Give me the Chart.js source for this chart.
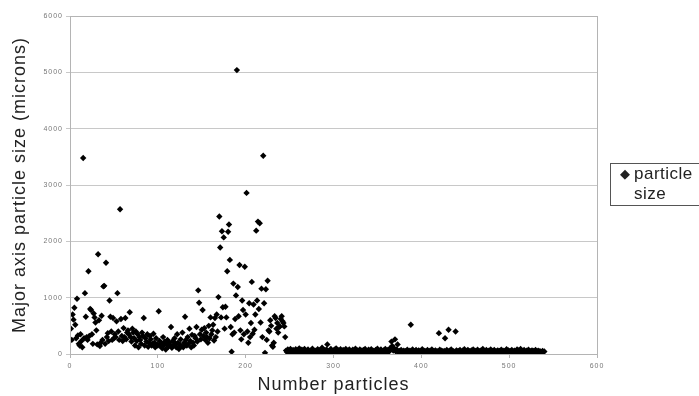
<!DOCTYPE html>
<html>
<head>
<meta charset="utf-8">
<script src="https://cdn.jsdelivr.net/npm/chart.js@4.4.1/dist/chart.umd.min.js"></script>
<style>
  html, body { margin: 0; padding: 0; background: #fff; }
  #chart { display: block; }
</style>
</head>
<body>
<canvas id="chart" width="699" height="396"></canvas>
<script>
// particle number = position in the list (1, 2, 3 ...)
var sizesPeak = [
  450, 250, 700, 610, 820, 520, 280, 980, 330, 180,
  150, 350, 230, 120, 3480, 280, 1080, 660, 300, 250,
  1470, 320, 800, 780, 350, 180, 720, 650, 560, 420,
  170, 1770, 600, 140, 200, 680, 250, 1200, 1210, 180,
  1620, 300, 370, 230, 950, 660, 400, 250, 640, 280,
  350, 300, 580, 1080, 400, 250, 2570, 620, 320, 230,
  460, 300, 640, 260, 380, 420, 350, 740, 300, 220,
  450, 380, 280, 150, 400, 230, 350, 120, 300, 250,
  180, 380, 320, 640, 150, 280, 220, 350, 130, 200,
  320, 260, 150, 180, 360, 200, 120, 280, 170, 150,
  760, 230, 140, 190, 100, 300, 160, 220, 80, 180,
  250, 130, 200, 160, 480, 110, 230, 150, 280, 190,
  120, 350, 200, 90, 160, 260, 140, 380, 120, 200,
  660, 250, 150, 300, 180, 450, 230, 120, 340, 200,
  150, 320, 280, 480, 220, 1130, 910, 350, 260, 430,
  780, 320, 460, 250, 380, 300, 200, 500, 280, 650,
  350, 420, 520, 240, 640, 300, 700, 400, 1010, 2440,
  1890, 650, 2180, 830, 2070, 450, 840, 650, 1470, 2170,
  2300, 1670, 480, 40, 350, 1250, 380, 620, 1040, 5040,
  1190, 670, 1580, 420, 260, 950, 780, 350, 1550, 700,
  2860, 400, 200, 900, 300, 550, 1280, 360, 880, 430,
  700, 2190, 950, 2350, 800, 2320, 560, 1160, 300, 3520,
  900, 20, 1150, 250, 1300, 420, 400, 600, 500, 150,
  130, 200, 670, 640, 450, 550, 380, 480, 490, 620,
  670, 580, 550, 490, 300
];
var sizesTail = [
  60, 35, 80, 20, 55, 90, 40, 15, 70, 45, 30, 85, 50, 25, 65, 100, 40, 20, 75, 55,
  30, 90, 45, 10, 60, 80, 35, 50, 20, 70, 95, 40, 25, 60, 45, 15, 85, 50, 30, 70,
  40, 110, 55, 20, 65, 35, 80, 170, 45, 25, 60, 90, 30, 50, 15, 75, 40, 100, 55, 20,
  65, 35, 85, 45, 10, 70, 50, 30, 90, 25, 60, 40, 80, 20, 55, 35, 75, 15, 50, 95,
  30, 65, 45, 20, 80, 40, 60, 10, 70, 35, 90, 50, 25, 55, 75, 15, 45, 85, 30, 60,
  40, 20, 70, 50, 95, 30, 55, 15, 80, 45, 25, 65, 35, 90, 50, 20, 70, 40, 60, 110,
  220, 140, 60, 100, 260, 45, 80, 170, 30, 55, 20, 70, 40, 15, 60, 35, 50, 25, 75, 45,
  20, 60, 520, 35, 80, 15, 50, 30, 70, 40, 10, 65, 25, 55, 45, 85, 20, 60, 35, 50,
  15, 70, 40, 25, 60, 45, 80, 20, 55, 30, 65, 10, 50, 35, 370, 75, 20, 60, 45, 25,
  55, 280, 40, 70, 15, 430, 60, 35, 80, 25, 50, 45, 20, 400, 65, 30, 55, 10, 70, 40,
  25, 60, 45, 85, 20, 55, 35, 70, 15, 50, 30, 65, 40, 80, 20, 60, 45, 25, 75, 35,
  50, 15, 65, 40, 90, 30, 55, 20, 70, 45, 25, 60, 35, 80, 10, 55, 40, 70, 25, 50,
  35, 65, 20, 55, 45, 75, 30, 60, 15, 50, 40, 85, 25, 65, 35, 55, 20, 70, 45, 30,
  60, 15, 50, 80, 35, 65, 25, 90, 40, 55, 20, 70, 45, 30, 60, 15, 75, 40, 50, 25,
  65, 35, 55, 20, 70, 45, 30, 60, 15, 50, 40, 25, 55, 35, 45
];
var xTicks = [0, 100, 200, 300, 400, 500, 600];
var yTicks = [0, 1000, 2000, 3000, 4000, 5000, 6000];
var seriesName = "particle size";

var points = sizesPeak.concat(sizesTail).map(function(v, i) {
  return { x: i + 1, y: v };
});

// the source text is set a little wide, so space the axis lettering out
var spacing = {
  id: "spacing",
  beforeDraw: function(chart) { chart.ctx.letterSpacing = "1px"; },
  beforeDatasetsDraw: function(chart) { chart.ctx.letterSpacing = "0px"; }
};

var frame = {
  id: "frame",
  afterDatasetsDraw: function(chart) {
    var a = chart.chartArea, c = chart.ctx;
    c.save();
    c.strokeStyle = "#b4b4b4";
    c.lineWidth = 1;
    c.strokeRect(a.left + 0.5, a.top + 0.5, a.right - a.left, a.bottom - a.top);
    c.restore();
  }
};

var legendBox = {
  id: "legendBox",
  afterDraw: function(chart) {
    var c = chart.ctx;
    c.save();
    c.strokeStyle = "#555";
    c.lineWidth = 1;
    c.strokeRect(610.5, 163.5, 100, 42);
    c.fillStyle = "#222";
    c.textBaseline = "alphabetic";
    c.font = '13px "DejaVu Sans", sans-serif';
    c.fillText("\u25C6", 620, 178);
    c.font = '17px "Liberation Sans", Arial, sans-serif';
    c.letterSpacing = "0.5px";
    c.fillText("particle", 634, 179);
    c.fillText("size", 634, 199);
    c.restore();
  }
};

new Chart(document.getElementById("chart"), {
  type: "scatter",
  data: {
    datasets: [{
      label: seriesName,
      data: points,
      pointStyle: "rectRot",
      pointRadius: 3.2,
      borderWidth: 0,
      backgroundColor: "#000",
      borderColor: "#000"
    }]
  },
  options: {
    responsive: false,
    animation: false,
    layout: { padding: { top: 16, right: 102, left: 0, bottom: 0 } },
    plugins: { legend: { display: false }, tooltip: { enabled: false } },
    scales: {
      x: {
        type: "linear",
        min: xTicks[0],
        max: xTicks[xTicks.length - 1],
        afterBuildTicks: function(s) { s.ticks = xTicks.map(function(v) { return { value: v }; }); },
        afterFit: function(s) { s.height = 42; },
        ticks: {
          color: "#777", font: { size: 7, family: "Liberation Sans" }, padding: 4, maxRotation: 0,
          callback: function(v) { return String(v); }
        },
        grid: { drawOnChartArea: false, tickLength: 4, color: "#b4b4b4" },
        border: { color: "#b4b4b4" },
        title: {
          display: true,
          text: "Number particles",
          color: "#222",
          font: { size: 18, family: "Liberation Sans" },
          padding: { top: 0, bottom: 0 }
        }
      },
      y: {
        min: yTicks[0],
        max: yTicks[yTicks.length - 1],
        afterBuildTicks: function(s) { s.ticks = yTicks.map(function(v) { return { value: v }; }); },
        afterFit: function(s) { s.width = 70; },
        ticks: {
          color: "#777", font: { size: 7, family: "Liberation Sans" }, padding: 3,
          callback: function(v) { return String(v); }
        },
        grid: { color: "#c8c8c8", tickLength: 4 },
        border: { color: "#b4b4b4" },
        title: {
          display: true,
          text: "Major axis particle size (microns)",
          color: "#222",
          font: { size: 18, family: "Liberation Sans" },
          padding: { top: 9, bottom: 0 }
        }
      }
    }
  },
  plugins: [spacing, frame, legendBox]
});
</script>
</body>
</html>
